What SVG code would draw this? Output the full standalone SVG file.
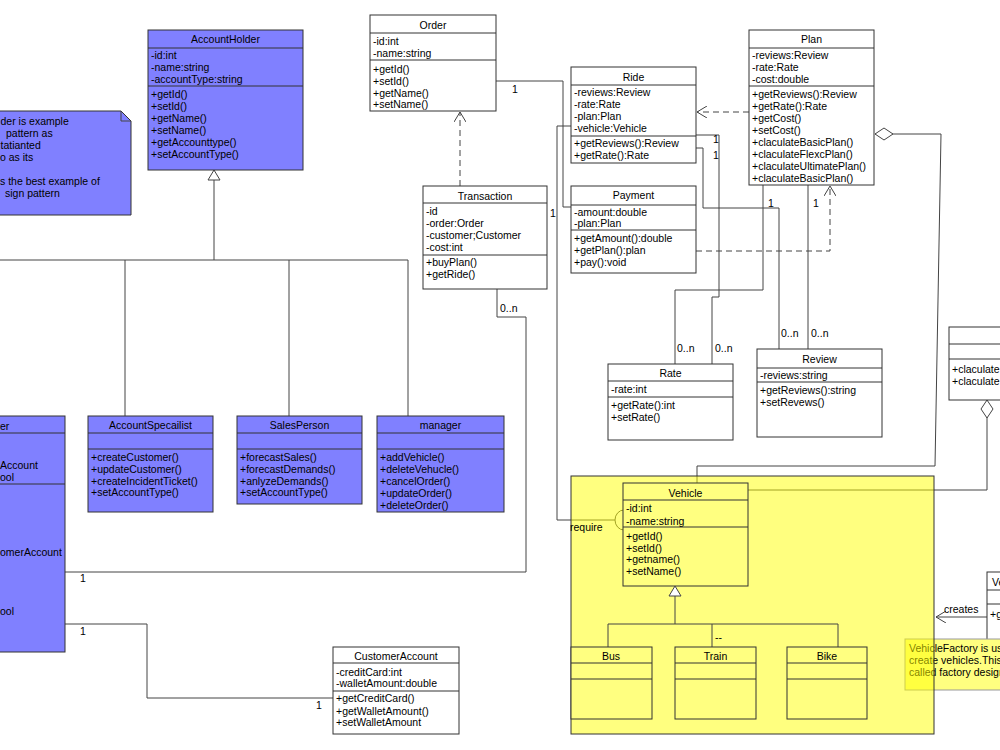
<svg xmlns="http://www.w3.org/2000/svg" width="1000" height="750" viewBox="0 0 1000 750">
<style>
text{font-family:"Liberation Sans",Arial,sans-serif;font-size:10.5px;fill:#000}
.c{text-anchor:middle}
.box{stroke:#333;stroke-width:1}
.blue{fill:#8080ff}
.white{fill:#fff}
.yel{fill:#ffff80}
.div{stroke:#333;stroke-width:1}
.ln{fill:none;stroke:#444;stroke-width:1}
.dash{fill:none;stroke:#444;stroke-width:1;stroke-dasharray:6,4}
.note{fill:#8080ff;stroke:#333}
</style>
<defs>
<marker id="open" viewBox="0 0 10 12" refX="10" refY="6" markerWidth="10" markerHeight="12" markerUnits="userSpaceOnUse" orient="auto"><path d="M0,0 L10,6 L0,12" fill="none" stroke="#444"/></marker>
<marker id="tri" viewBox="-1 -1 12 14" refX="10" refY="6" markerWidth="12" markerHeight="14" markerUnits="userSpaceOnUse" orient="auto"><path d="M0,0 L10,6 L0,12 Z" fill="#fff" stroke="#444"/></marker>
<marker id="dia" viewBox="-1 -1 20 14" refX="0" refY="6" markerWidth="20" markerHeight="14" markerUnits="userSpaceOnUse" orient="auto"><path d="M0,6 L9,0 L18,6 L9,12 Z" fill="#fff" stroke="#444"/></marker>
</defs>

<g id="note-accountholder">
<path class="note" d="M-5,111 H121 L131,121 V215 H-5 Z"/>
<path class="ln" d="M121,111 V121 H131" stroke="#333"/>
<text x="0.5" y="125">der is example</text>
<text x="6" y="137">pattern as</text>
<text x="0.5" y="149">tatianted</text>
<text x="0" y="161">o as its</text>
<text x="0" y="185">s the best example of</text>
<text x="5" y="197">sign pattern</text>
</g>

<g id="connectors">
<path class="ln" d="M214,260 V170" marker-end="url(#tri)"/>
<path class="ln" d="M-5,260 H408 M125,260 V416 M289,260 V416 M408,260 V416"/>
<path class="dash" d="M460,186 V112" marker-end="url(#open)"/>
<path class="ln" d="M497,289 V317 H526 V572 H65"/>
<path class="ln" d="M65,624 H147 V698 H333"/>
<path class="ln" d="M496,81 H563 V207 H571"/>
<path class="ln" d="M571,126 H557 V520 H615"/>
<path class="ln" d="M624,510 A9,10 0 0 0 624,530"/>
<path class="dash" d="M749,112 H697" marker-end="url(#open)"/>
<path class="dash" d="M696,251 H830 V186" marker-end="url(#open)"/>
<path class="ln" d="M696,135 H719 V297 H712 V364"/>
<path class="ln" d="M696,148 H703 V208 H779 V349"/>
<path class="ln" d="M763,185 V290 H675 V364"/>
<path class="ln" d="M808,185 V349"/>
<path class="ln" d="M875,134 H941 L935,466 H697 V483" marker-start="url(#dia)"/>
<path class="ln" d="M987,400 V490 H748" marker-start="url(#dia)"/>
<path class="ln" d="M987,617 H936" marker-end="url(#open)"/>
<text x="512" y="93">1</text>
<text x="550" y="217">1</text>
<text x="500" y="311.5">0..n</text>
<text x="80" y="582">1</text>
<text x="80" y="634.5">1</text>
<text x="316" y="709">1</text>
<text x="713" y="143">1</text>
<text x="713" y="159">1</text>
<text x="768" y="206.5">1</text>
<text x="813" y="206.5">1</text>
<text x="677" y="352">0..n</text>
<text x="715" y="352">0..n</text>
<text x="781" y="337">0..n</text>
<text x="811" y="337">0..n</text>
<text x="944" y="613">creates</text>
</g>

<g id="AccountHolder">
<rect class="box blue" x="148" y="30" width="155" height="140"/>
<path class="div" d="M148,48 H303 M148,86 H303"/>
<text class="c" x="225.5" y="43">AccountHolder</text>
<text x="151" y="59">-id:int</text>
<text x="151" y="71">-name:string</text>
<text x="151" y="83">-accountType:string</text>
<text x="151" y="98">+getId()</text>
<text x="151" y="110">+setId()</text>
<text x="151" y="122">+getName()</text>
<text x="151" y="134">+setName()</text>
<text x="151" y="146">+getAccounttype()</text>
<text x="151" y="158">+setAccountType()</text>
</g>

<g id="Customer">
<rect class="box blue" x="-5" y="416" width="70" height="236"/>
<path class="div" d="M-5,433 H65 M-5,484 H65"/>
<text x="0" y="429.5">er</text>
<text x="0" y="469">Account</text>
<text x="0" y="481">ool</text>
<text x="0" y="556">omerAccount</text>
<text x="0" y="615">ool</text>
</g>

<g id="AccountSpecailist">
<rect class="box blue" x="88" y="416" width="125" height="96"/>
<path class="div" d="M88,433 H213 M88,449 H213"/>
<text class="c" x="150.5" y="429">AccountSpecailist</text>
<text x="91" y="460.5">+createCustomer()</text>
<text x="91" y="472.5">+updateCustomer()</text>
<text x="91" y="484.5">+createIncidentTicket()</text>
<text x="91" y="496">+setAccountType()</text>
</g>

<g id="SalesPerson">
<rect class="box blue" x="237" y="416" width="125" height="88"/>
<path class="div" d="M237,433 H362 M237,449 H362"/>
<text class="c" x="299.5" y="429">SalesPerson</text>
<text x="240" y="460.5">+forecastSales()</text>
<text x="240" y="472.5">+forecastDemands()</text>
<text x="240" y="484.5">+anlyzeDemands()</text>
<text x="240" y="496">+setAccountType()</text>
</g>

<g id="manager">
<rect class="box blue" x="377" y="416" width="127" height="96"/>
<path class="div" d="M377,433 H504 M377,449 H504"/>
<text class="c" x="440.5" y="429">manager</text>
<text x="380" y="460.5">+addVehicle()</text>
<text x="380" y="472.5">+deleteVehucle()</text>
<text x="380" y="484.5">+cancelOrder()</text>
<text x="380" y="496.5">+updateOrder()</text>
<text x="380" y="508.5">+deleteOrder()</text>
</g>

<g id="Order">
<rect class="box white" x="370" y="15" width="126" height="96"/>
<path class="div" d="M370,33 H496 M370,60 H496"/>
<text class="c" x="433" y="29">Order</text>
<text x="373" y="44.5">-id:int</text>
<text x="373" y="56.5">-name:string</text>
<text x="373" y="72.5">+getId()</text>
<text x="373" y="84.5">+setId()</text>
<text x="373" y="96.5">+getName()</text>
<text x="373" y="108">+setName()</text>
</g>

<g id="Transaction">
<rect class="box white" x="423" y="186" width="124" height="103"/>
<path class="div" d="M423,203 H547 M423,255 H547"/>
<text class="c" x="485" y="199.5">Transaction</text>
<text x="426" y="215">-id</text>
<text x="426" y="227">-order:Order</text>
<text x="426" y="239">-customer;Customer</text>
<text x="426" y="250.5">-cost:int</text>
<text x="426" y="265.5">+buyPlan()</text>
<text x="426" y="277.5">+getRide()</text>
</g>

<g id="CustomerAccount">
<rect class="box white" x="333" y="647" width="126" height="87"/>
<path class="div" d="M333,663 H459 M333,691 H459"/>
<text class="c" x="396" y="660">CustomerAccount</text>
<text x="336" y="675.5">-creditCard:int</text>
<text x="336" y="687">-walletAmount:double</text>
<text x="336" y="702">+getCreditCard()</text>
<text x="336" y="714.5">+getWalletAmount()</text>
<text x="336" y="726">+setWalletAmount</text>
</g>

<g id="Ride">
<rect class="box white" x="571" y="67" width="125" height="96"/>
<path class="div" d="M571,85 H696 M571,136 H696"/>
<text class="c" x="633.5" y="80.5">Ride</text>
<text x="574" y="95.5">-reviews:Review</text>
<text x="574" y="107.5">-rate:Rate</text>
<text x="574" y="119.5">-plan:Plan</text>
<text x="574" y="131.5">-vehicle:Vehicle</text>
<text x="574" y="147">+getReviews():Review</text>
<text x="574" y="159">+getRate():Rate</text>
</g>

<g id="Payment">
<rect class="box white" x="571" y="186" width="125" height="87"/>
<path class="div" d="M571,205 H696 M571,230 H696"/>
<text class="c" x="633.5" y="199">Payment</text>
<text x="574" y="215.5">-amount:double</text>
<text x="574" y="227">-plan:Plan</text>
<text x="574" y="242">+getAmount():double</text>
<text x="574" y="254">+getPlan():plan</text>
<text x="574" y="265.5">+pay():void</text>
</g>

<g id="Plan">
<rect class="box white" x="749" y="30" width="125" height="155"/>
<path class="div" d="M749,48 H874 M749,86 H874"/>
<text class="c" x="811.5" y="43">Plan</text>
<text x="752" y="59">-reviews:Review</text>
<text x="752" y="71">-rate:Rate</text>
<text x="752" y="83">-cost:double</text>
<text x="752" y="98">+getReviews():Review</text>
<text x="752" y="110">+getRate():Rate</text>
<text x="752" y="122">+getCost()</text>
<text x="752" y="134">+setCost()</text>
<text x="752" y="146">+claculateBasicPlan()</text>
<text x="752" y="158">+claculateFlexcPlan()</text>
<text x="752" y="170">+claculateUltimatePlan()</text>
<text x="752" y="182">+claculateBasicPlan()</text>
</g>

<g id="Rate">
<rect class="box white" x="608" y="364" width="125" height="76"/>
<path class="div" d="M608,381 H733 M608,397 H733"/>
<text class="c" x="670.5" y="377">Rate</text>
<text x="611" y="393">-rate:int</text>
<text x="611" y="409">+getRate():int</text>
<text x="611" y="420.5">+setRate()</text>
</g>

<g id="Review">
<rect class="box white" x="757" y="349" width="125" height="88"/>
<path class="div" d="M757,368 H882 M757,382 H882"/>
<text class="c" x="819.5" y="363">Review</text>
<text x="760" y="379">-reviews:string</text>
<text x="760" y="394">+getReviews():string</text>
<text x="760" y="405.5">+setRevews()</text>
</g>

<g id="PlanTypes">
<rect class="box white" x="949" y="327" width="60" height="73"/>
<path class="div" d="M949,344 H1009 M949,359 H1009"/>
<text x="952" y="373">+claculate</text>
<text x="952" y="385">+claculate</text>
</g>

<g id="VehicleFactory">
<rect class="box white" x="987" y="572" width="20" height="73"/>
<path class="div" d="M987,590 H1007 M987,604 H1007"/>
<text x="992" y="585.5">Ve</text>
<text x="990" y="617.5">+g</text>
</g>

<g id="note-vehiclefactory">
<rect x="905" y="639" width="100" height="51" fill="#ffff80" stroke="#999"/>
<text x="909" y="652">VehicleFactory is us</text>
<text x="909" y="664">create vehicles.This</text>
<text x="909" y="676">called factory design</text>
</g>

<g id="VehiclePackage">
<rect x="571" y="476" width="363" height="258" fill="#ffff00" fill-opacity="0.5" stroke="#333"/>
</g>

<g id="Vehicle">
<rect class="box yel" x="623" y="483" width="125" height="103"/>
<path class="div" d="M623,500 H748 M623,527 H748"/>
<text class="c" x="685.5" y="496.5">Vehicle</text>
<text x="626" y="512">-id:int</text>
<text x="626" y="524.5">-name:string</text>
<text x="626" y="539.5">+getId()</text>
<text x="626" y="551.5">+setId()</text>
<text x="626" y="563">+getname()</text>
<text x="626" y="575">+setName()</text>
</g>

<g id="vehicle-links">
<path class="ln" d="M675,624 V586" marker-end="url(#tri)"/>
<path class="ln" d="M608,624 H838 M608,624 V647 M712,624 V647 M838,624 V647"/>
<text x="715" y="641">--</text>
<text x="570" y="530.5">require</text>
</g>

<g id="Bus">
<rect class="box yel" x="571" y="647" width="81" height="72"/>
<path class="div" d="M571,663 H652 M571,679 H652"/>
<text class="c" x="611" y="659.5">Bus</text>
</g>
<g id="Train">
<rect class="box yel" x="675" y="647" width="81" height="72"/>
<path class="div" d="M675,663 H756 M675,679 H756"/>
<text class="c" x="715.5" y="659.5">Train</text>
</g>
<g id="Bike">
<rect class="box yel" x="787" y="647" width="80" height="72"/>
<path class="div" d="M787,663 H867 M787,679 H867"/>
<text class="c" x="827" y="659.5">Bike</text>
</g>
</svg>
